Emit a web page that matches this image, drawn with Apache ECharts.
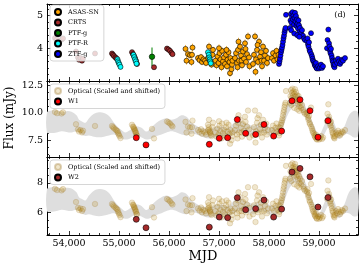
<!DOCTYPE html>
<html><head><meta charset="utf-8">
<script src="https://cdn.jsdelivr.net/npm/echarts@6/dist/echarts.min.js"></script>
<style>html,body{margin:0;padding:0;background:#fff}#c{width:363px;height:270px}</style>
</head><body><div id="c"></div>
<script>
// ---------- data (panel 1: optical flux, [MJD, flux, err]) ----------
const crts = [[53720,4.31,0.06],[53760,4.27,0.06],[53850,4.26,0.06],[53880,4.30,0.06],[54140,3.90,0.06],[54180,3.72,0.05],[54200,3.65,0.05],[54230,3.70,0.05],[54260,3.62,0.05],[54280,3.68,0.05],[54520,3.84,0.06],[54860,3.84,0.05],[54880,3.80,0.05],[54900,3.76,0.05],[54930,3.72,0.05],[54950,3.69,0.05],[55260,3.88,0.05],[55280,3.82,0.05],[55300,3.76,0.05],[55320,3.70,0.05],[55340,3.62,0.05],[55360,3.52,0.05],[55700,3.42,0.06],[55960,3.99,0.06],[55990,3.96,0.05],[56020,3.92,0.05],[56050,3.86,0.05],[56070,3.82,0.05]];
const ptfR = [[54970,3.66,0.04],[54980,3.60,0.04],[54995,3.55,0.04],[55010,3.50,0.04],[55030,3.43,0.04],[55290,3.80,0.04],[55305,3.73,0.04],[55320,3.66,0.04],[55335,3.60,0.04],[55350,3.53,0.04],[56780,3.88,0.04],[56795,3.80,0.04],[56805,3.72,0.04],[56815,3.66,0.04],[56825,3.60,0.04],[56835,3.54,0.04]];
const ptfG = [[55660,3.74,0.28]];
const asassn = [[56330,3.98,0.12],[56350,3.62,0.12],[56380,3.82,0.12],[56420,3.79,0.12],[56450,3.58,0.12],[56470,4.02,0.12],[56460,3.80,0.12],
[56580,3.70,0.1],[56610,3.64,0.1],[56640,3.73,0.1],[56660,3.58,0.1],[56690,3.66,0.1],[56720,3.62,0.1],[56740,3.55,0.1],
[56780,3.70,0.1],[56800,4.05,0.12],[56820,3.62,0.1],[56850,3.50,0.1],[56870,3.80,0.1],[56880,3.95,0.1],
[56930,3.62,0.12],[56950,3.48,0.12],[56970,3.75,0.12],[56990,3.55,0.12],[57010,3.85,0.12],[57030,3.66,0.12],[57050,3.42,0.12],[57060,3.92,0.12],[57080,3.60,0.12],[57100,3.72,0.12],[57120,3.52,0.12],[57140,3.80,0.12],[57160,3.45,0.12],[57170,3.65,0.12],[57190,3.88,0.12],[57210,3.58,0.12],[57220,3.24,0.12],[57230,3.70,0.12],[57250,3.36,0.12],[57260,3.50,0.12],[57270,3.62,0.12],[57000,4.00,0.12],[57150,3.95,0.12],
[57320,3.70,0.12],[57340,3.85,0.12],[57360,3.55,0.12],[57370,3.42,0.12],[57380,3.95,0.12],[57400,3.62,0.12],[57420,4.05,0.12],[57440,3.78,0.12],[57450,3.62,0.12],[57460,3.48,0.12],[57480,3.90,0.12],[57500,3.68,0.12],[57520,4.15,0.12],[57540,3.58,0.12],[57560,3.82,0.12],[57580,4.36,0.12],[57600,3.72,0.12],[57610,3.45,0.12],[57390,4.20,0.12],[57530,3.98,0.12],
[57680,3.52,0.12],[57700,3.80,0.12],[57720,4.36,0.12],[57730,3.28,0.12],[57740,3.66,0.12],[57760,3.95,0.12],[57780,3.58,0.12],[57800,4.20,0.12],[57820,3.74,0.12],[57840,3.88,0.12],[57850,3.62,0.12],[57860,3.45,0.12],[57880,4.05,0.12],[57900,3.62,0.12],[57920,3.78,0.12],[57940,3.92,0.12],[57960,3.55,0.12],[57980,3.70,0.12],[57770,4.10,0.12],
[58060,3.70,0.1],[58080,3.85,0.1],[58100,3.62,0.1],[58130,3.78,0.1],[58150,3.92,0.1],[58170,3.66,0.1],[58190,3.80,0.1]];
const ztfG = [[58200,3.52,0.05],[58210,3.60,0.05],[58220,3.68,0.05],[58230,3.78,0.05],[58240,3.88,0.05],[58250,3.95,0.05],[58260,4.02,0.05],[58270,4.10,0.05],[58280,4.20,0.05],[58290,4.30,0.05],[58300,4.38,0.05],[58310,4.48,0.05],[58320,4.56,0.05],[58330,4.62,0.05],[58340,5.02,0.05],
[58420,4.62,0.05],[58430,4.85,0.05],[58440,5.05,0.05],[58450,4.78,0.05],[58460,4.95,0.05],[58470,5.10,0.05],[58480,4.88,0.05],[58490,5.00,0.05],[58500,4.72,0.05],[58510,4.92,0.05],[58520,5.08,0.05],[58530,4.82,0.05],[58540,4.98,0.05],[58550,4.68,0.05],[58560,4.88,0.05],[58570,4.75,0.05],[58580,4.60,0.05],[58590,4.85,0.05],[58600,4.70,0.05],[58610,4.50,0.05],[58620,4.62,0.05],[58640,4.45,0.05],[58660,4.55,0.05],[58680,4.38,0.05],[58700,4.30,0.05],[58720,4.25,0.05],[58445,4.55,0.05],[58505,4.45,0.05],[58565,4.40,0.05],[58605,4.35,0.05],
[58760,4.22,0.05],[58770,4.30,0.05],[58780,4.12,0.05],[58790,4.05,0.05],[58800,4.18,0.05],[58810,3.95,0.05],[58820,3.90,0.05],[58840,4.46,0.05],[58845,3.82,0.05],[58860,3.75,0.05],[58870,3.68,0.05],[58880,3.62,0.05],[58900,3.58,0.05],[58910,3.52,0.05],[58920,3.48,0.05],[58930,3.45,0.05],[58940,3.55,0.05],[58950,3.40,0.05],[58960,3.38,0.05],[58980,3.45,0.05],[59000,3.38,0.05],[59020,3.42,0.05],[59040,3.50,0.05],[59060,3.40,0.05],[59080,3.45,0.05],
[59160,4.00,0.05],[59170,4.25,0.05],[59187,4.57,0.05],[59200,4.15,0.05],[59210,4.05,0.05],[59220,3.92,0.05],[59230,3.85,0.05],[59240,3.98,0.05],[59250,3.78,0.05],[59260,3.70,0.05],[59270,3.62,0.05],[59280,3.58,0.05],[59290,3.50,0.05],[59300,3.45,0.05],[59310,3.42,0.05],[59320,3.50,0.05],[59340,3.62,0.05],[59360,3.55,0.05],[59380,3.68,0.05],[59400,3.60,0.05],[59420,3.52,0.05],[59440,3.58,0.05],[59460,3.65,0.05],[59480,3.62,0.05],[59520,3.70,0.05]];

// model band (optical units)
const bandX  = [53560,53650,53750,53850,53950,54050,54150,54200,54250,54330,54400,54500,54600,54700,54800,54900,54980,55050,55120,55200,55300,55380,55450,55550,55650,55750,55850,55950,56050,56150,56250,56350,56450,56500,56600,56700,56800,56900,57000,57100,57200,57300,57400,57500,57600,57700,57800,57900,58000,58100,58200,58300,58400,58500,58600,58700,58800,58900,59000,59100,59200,59300,59400,59500,59600,59700,59780];
const bandLo = [3.62,3.60,3.62,3.66,3.64,3.62,3.66,3.62,3.55,3.50,3.52,3.48,3.46,3.48,3.52,3.55,3.50,3.42,3.38,3.40,3.48,3.50,3.45,3.38,3.42,3.50,3.55,3.62,3.66,3.62,3.55,3.52,3.58,3.58,3.52,3.45,3.42,3.45,3.48,3.50,3.48,3.55,3.62,3.60,3.55,3.52,3.58,3.60,3.52,3.50,3.58,3.90,4.30,4.50,4.45,4.20,3.90,3.55,3.35,3.55,3.80,3.60,3.40,3.55,3.55,3.45,3.50];
const bandHi = [4.30,4.36,4.36,4.30,4.34,4.32,4.20,4.05,4.00,3.95,4.10,4.25,4.30,4.28,4.18,3.95,3.80,3.70,3.62,3.68,3.80,3.82,3.78,3.65,3.80,3.95,4.05,4.10,4.05,4.10,4.20,4.15,3.95,3.90,3.80,3.75,3.72,3.80,3.82,3.80,3.78,3.95,4.02,3.95,3.88,3.85,3.95,3.95,3.82,3.78,3.90,4.30,4.75,4.95,4.90,4.60,4.25,3.85,3.55,3.85,4.20,3.95,3.60,3.80,4.20,4.35,4.30];

// mid-IR points [MJD, flux]
const w1 = [[55345,7.75],[55540,7.10],[56806,7.15],[57006,7.70],[57173,7.75],[57366,9.40],[57533,8.15],[57733,8.05],[57900,8.95],[58093,7.90],[58253,8.35],[58460,11.10],[58620,11.20],[58820,10.20],[58980,7.80],[59180,9.30]];
const w2 = [[55345,5.53],[55540,4.96],[56806,5.00],[57006,5.68],[57173,5.64],[57366,6.99],[57533,6.18],[57733,6.25],[57900,6.83],[58093,5.68],[58253,6.22],[58460,8.72],[58620,8.97],[58820,8.40],[58980,6.36],[59180,7.00]];

// scaling of optical to mid-IR panels
const OPT_REF = 3.35;
const W1_REF = 7.5, W1_SCALE = 2.69;
const W2_REF = 5.5, W2_SCALE = 2.18;

// ticks
const xMajor = [54000,55000,56000,57000,58000,59000];
const xMinor = [53600,53800,54200,54400,54600,54800,55200,55400,55600,55800,56200,56400,56600,56800,57200,57400,57600,57800,58200,58400,58600,58800,59200,59400,59600];
const yMajor = [[4,5],[7.5,10,12.5],[6,8]];
const yMinor = [[3.2,3.4,3.6,3.8,4.2,4.4,4.6,4.8,5.2],[6.25,6.875,8.125,8.75,9.375,10.625,11.25,11.875],[4.5,5,5.5,6.5,7,7.5,8.5,9,9.5]];
const yRange = [[3.0,5.35],[6.0,12.9],[4.47,9.74]];
const yFmt = [v=>String(v), v=>v.toFixed(1), v=>String(v)];
const X_MIN = 53560, X_MAX = 59780;

// ---------- chart ----------
const FONT = 'DejaVu Serif';
const chart = echarts.init(document.getElementById('c'), null, {renderer:'canvas', width:363, height:270});
const gridPos = [{top:4,height:77},{top:81,height:76},{top:157,height:78}];
const grid = gridPos.map(g=>({left:47, width:311, top:g.top, height:g.height, containLabel:false, outerBoundsMode:'none'}));

const xAxis = [], yAxis = [];
gridPos.forEach((g,gi)=>{
  [['bottom',xMajor,4,gi===2,true],['bottom',xMinor,2,false,false],['top',xMajor,4,false,true],['top',xMinor,2,false,false]].forEach(([pos,vals,len,lab,line])=>{
    xAxis.push({type:'value', gridIndex:gi, position:pos, min:X_MIN, max:X_MAX,
      axisLine:{show:line, onZero:false, lineStyle:{color:'#000', width:1}},
      axisTick:{show:true, inside:true, length:len, customValues:vals, lineStyle:{color:'#000', width:0.8}},
      axisLabel:{show:lab, customValues:xMajor, color:'#000', fontFamily:FONT, fontSize:9.5, margin:4, hideOverlap:false},
      splitLine:{show:false}, minorTick:{show:false}});
  });
  [['left',yMajor[gi],4,true,true],['left',yMinor[gi],2,false,false],['right',yMajor[gi],4,false,true],['right',yMinor[gi],2,false,false]].forEach(([pos,vals,len,lab,line])=>{
    yAxis.push({type:'value', gridIndex:gi, position:pos, min:yRange[gi][0], max:yRange[gi][1],
      axisLine:{show:line, onZero:false, lineStyle:{color:'#000', width:1}},
      axisTick:{show:true, inside:true, length:len, customValues:vals, lineStyle:{color:'#000', width:0.8}},
      axisLabel:{show:lab, customValues:yMajor[gi], formatter:yFmt[gi], color:'#000', fontFamily:FONT, fontSize:9.5, margin:4, hideOverlap:false},
      splitLine:{show:false}, minorTick:{show:false}});
  });
});

function errSeries(data, gi, color, width, z){
  return {type:'custom', name:'err', xAxisIndex:4*gi, yAxisIndex:4*gi, z:z, silent:true,
    data: data.map(d=>[d[0], d[1]-d[2], d[1]+d[2]]),
    encode:{x:0, y:[1,2]},
    renderItem:(params, api)=>{
      const a = api.coord([api.value(0), api.value(1)]);
      const b = api.coord([api.value(0), api.value(2)]);
      return {type:'line', shape:{x1:a[0], y1:a[1], x2:b[0], y2:b[1]}, style:{stroke:color, lineWidth:width}};
    }};
}
function scat(name, data, gi, color, size, z, border){
  return {type:'scatter', name:name, xAxisIndex:4*gi, yAxisIndex:4*gi, z:z, symbol:'circle', symbolSize:size,
    data:data.map(d=>[d[0], d[1]]),
    itemStyle:{color:color, borderColor:border||'#000', borderWidth:0.6, opacity:1}};
}
const optAll = [].concat(crts, ptfR, ptfG, asassn, ztfG);
function bandSeries(gi, ref, scale){
  const rows = bandX.map((x,i)=>[x, ref + (bandLo[i]-OPT_REF)*scale, ref + (bandHi[i]-OPT_REF)*scale]);
  return {type:'custom', name:'band'+gi, xAxisIndex:4*gi, yAxisIndex:4*gi, z:1, silent:true,
    data: rows, encode:{x:0, y:[1,2]},
    renderItem:(params, api)=>{
      if (params.dataIndex !== 0) return null;
      const up = rows.map(r=>api.coord([r[0], r[2]]));
      const dn = rows.map(r=>api.coord([r[0], r[1]])).reverse();
      return {type:'group', children:[
        {type:'polyline', shape:{points:up, smooth:0.35}, style:{stroke:null, fill:null}},
        {type:'polygon', shape:{points:up.concat(dn), smooth:0.35}, style:{fill:'#dedede', stroke:null}}
      ]};
    }};
}
function optScaled(gi, ref, scale){
  return {type:'scatter', name:'Optical (Scaled and shifted)', xAxisIndex:4*gi, yAxisIndex:4*gi, z:2, symbol:'circle', symbolSize:5.5,
    data: optAll.map(d=>[d[0], ref + (d[1]-OPT_REF)*scale]),
    itemStyle:{color:'rgba(184,134,11,0.26)', borderColor:'rgba(150,110,30,0.4)', borderWidth:0.6}};
}

const series = [
  errSeries(asassn,0,'rgba(255,165,0,0.7)',1,2),
  errSeries(crts,0,'rgba(165,42,42,0.6)',1,2),
  errSeries(ptfG,0,'rgba(0,128,0,0.5)',2,2),
  errSeries(ptfR,0,'rgba(0,200,200,0.6)',1,2),
  errSeries(ztfG,0,'rgba(0,0,255,0.5)',1,2),
  scat('ASAS-SN', asassn, 0, '#ffa500', 5, 3),
  scat('CRTS', crts, 0, '#a52a2a', 5, 3),
  scat('PTF-g', ptfG, 0, '#008000', 5.5, 3),
  scat('PTF-R', ptfR, 0, '#00ffff', 5, 3),
  scat('ZTF-g', ztfG, 0, '#0000ff', 5, 3),
  bandSeries(1, W1_REF, W1_SCALE),
  optScaled(1, W1_REF, W1_SCALE),
  scat('W1', w1, 1, '#ff0000', 6, 4),
  bandSeries(2, W2_REF, W2_SCALE),
  optScaled(2, W2_REF, W2_SCALE),
  scat('W2', w2, 2, '#a52a2a', 6, 4)
];

const legBase = {orient:'vertical', itemWidth:10, itemHeight:6, itemGap:2.5, icon:'circle',
  backgroundColor:'rgba(255,255,255,0.8)', borderColor:'#cccccc', borderWidth:0.8, borderRadius:3,
  padding:[3,5,3,4], textStyle:{fontFamily:FONT, fontSize:6.5, color:'#000', lineHeight:7}, selectedMode:false, z:10};
const legend = [
  Object.assign({}, legBase, {left:50, top:5, data:['ASAS-SN','CRTS','PTF-g','PTF-R','ZTF-g']}),
  Object.assign({}, legBase, {left:50, top:84, data:['Optical (Scaled and shifted)','W1']}),
  Object.assign({}, legBase, {left:50, top:160, data:['Optical (Scaled and shifted)','W2']})
];

const graphic = [
  {type:'text', x:340, y:15, z:20, style:{text:'(d)', font:'8px "DejaVu Serif"', fill:'#000', align:'center', verticalAlign:'middle', textAlign:'center', textVerticalAlign:'middle'}},
  {type:'text', x:10, y:118, rotation:Math.PI/2, z:20, style:{text:'Flux (mJy)', font:'12px "DejaVu Serif"', fill:'#000', align:'center', verticalAlign:'middle', textAlign:'center', textVerticalAlign:'middle'}},
  {type:'text', x:203, y:257, z:20, style:{text:'MJD', font:'13px "DejaVu Serif"', fill:'#000', align:'center', verticalAlign:'middle', textAlign:'center', textVerticalAlign:'middle'}}
];

chart.setOption({animation:false, backgroundColor:'#fff', textStyle:{fontFamily:FONT},
  grid, xAxis, yAxis, legend, graphic, series});
</script>
</body></html>
